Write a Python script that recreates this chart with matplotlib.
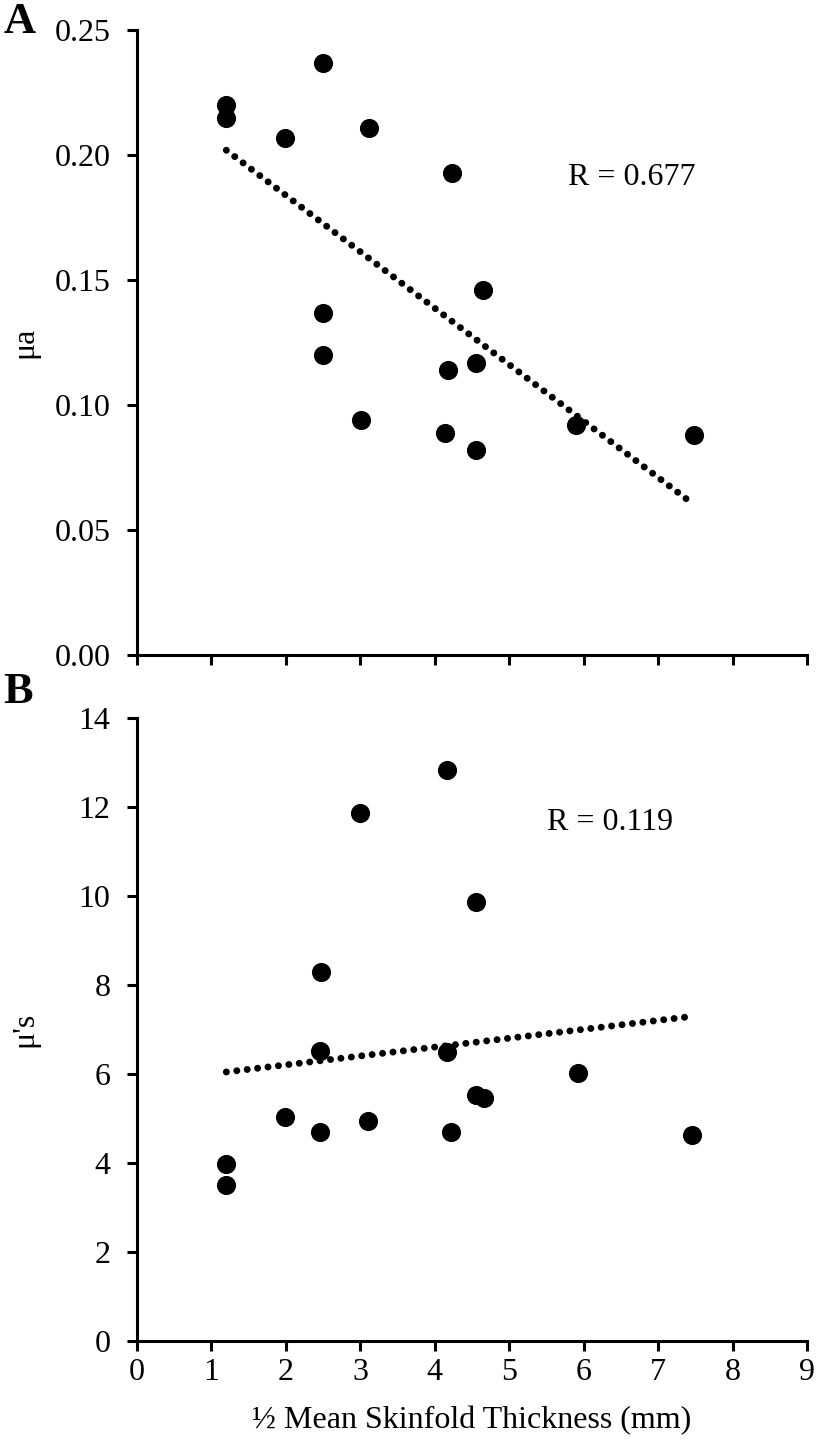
import numpy as np
import matplotlib
matplotlib.use("Agg")
import matplotlib.pyplot as plt

plt.rcParams['font.family'] = ['Liberation Serif', 'DejaVu Serif']

# panel A: absorption coefficient vs half skinfold thickness
x_a = [1.20, 1.20, 1.99, 2.50, 3.11, 4.23, 2.50, 2.50, 3.01, 4.18, 4.14, 4.55, 4.55, 4.65, 5.90, 7.48]
y_a = [0.220, 0.215, 0.207, 0.237, 0.211, 0.193, 0.137, 0.120, 0.094, 0.114, 0.089, 0.117, 0.082, 0.146, 0.092, 0.088]

# panel B: reduced scattering coefficient
x_b = [1.20, 1.20, 1.99, 2.46, 2.46, 2.47, 3.00, 3.10, 4.16, 4.17, 4.22, 4.56, 4.55, 4.66, 5.92, 7.46]
y_b = [3.98, 3.50, 5.04, 6.52, 4.70, 8.29, 11.87, 4.95, 6.50, 12.83, 4.70, 9.87, 5.53, 5.45, 6.02, 4.64]

r_a = "R = 0.677"
r_b = "R = 0.119"
xlabel = "½ Mean Skinfold Thickness (mm)"

FS = 23

fig = plt.figure(figsize=(8.16, 14.51), dpi=100)
ax1 = fig.add_axes([0.1679, 0.5486, 0.8211, 0.4307])
ax2 = fig.add_axes([0.1679, 0.0758, 0.8211, 0.4294])


def style(ax):
    for s in ['top', 'right']:
        ax.spines[s].set_visible(False)
    for s in ['left', 'bottom']:
        ax.spines[s].set_linewidth(2.2)
    ax.tick_params(direction='out', length=7, width=2.2, labelsize=FS)
    ax.tick_params(axis='y', pad=12)
    ax.tick_params(axis='x', pad=5)
    ax.set_xlim(0, 9)
    ax.set_xticks(range(10))


def trend(ax, x, y):
    m, b = np.polyfit(x, y, 1)
    xs = np.array([min(x), max(x)])
    ax.plot(xs, m * xs + b, color='black', lw=5,
            linestyle=(0, (0.01, 1.5)), dash_capstyle='round', zorder=2)


# top panel
style(ax1)
ax1.scatter(x_a, y_a, s=190, color='black', zorder=3, linewidths=0)
trend(ax1, x_a, y_a)
ax1.set_ylim(0, 0.25)
ax1.set_yticks(np.arange(0, 0.26, 0.05))
ax1.set_yticklabels([f"{v:.2f}" for v in np.arange(0, 0.26, 0.05)])
ax1.set_xticklabels([])
ax1.set_ylabel("μa", fontsize=FS)
ax1.yaxis.set_label_coords(-0.145, 0.5)
ax1.text(6.64, 0.191, r_a, fontsize=FS, ha='center', va='center')
fig.text(0.004, 0.985, "A", fontsize=32, fontweight='bold', ha='left', va='center')

# bottom panel
style(ax2)
ax2.scatter(x_b, y_b, s=190, color='black', zorder=3, linewidths=0)
trend(ax2, x_b, y_b)
ax2.set_ylim(0, 14)
ax2.set_yticks(range(0, 15, 2))
ax2.set_ylabel("μ's", fontsize=FS)
ax2.yaxis.set_label_coords(-0.145, 0.5)
ax2.set_xlabel(xlabel, fontsize=FS, labelpad=14)
ax2.text(6.36, 11.66, r_b, fontsize=FS, ha='center', va='center')
fig.text(0.004, 0.523, "B", fontsize=32, fontweight='bold', ha='left', va='center')

fig.savefig("out.png", dpi=100)
